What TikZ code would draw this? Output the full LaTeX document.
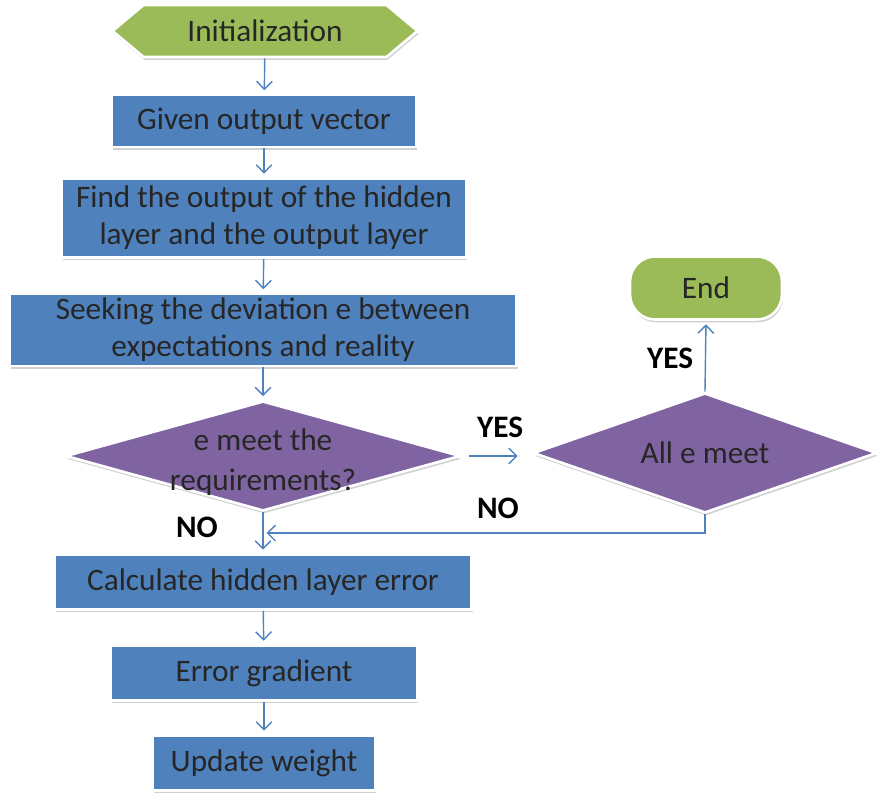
\documentclass[tikz,border=0pt]{standalone}
\usepackage{fontspec}
\setmainfont{Carlito}
\usetikzlibrary{positioning, arrows.meta, shapes.geometric, shapes.symbols, shadows}
\definecolor{boxblue}{HTML}{4F81BD}
\definecolor{boxgreen}{HTML}{9BBB59}
\definecolor{boxpurple}{HTML}{8064A2}
\tikzset{
    every node/.style={font=\fontsize{17.8}{21}\selectfont, text=black!85},
    frame/.style={draw=white, line width=1.5pt, inner sep=0pt,
        drop shadow={shadow xshift=0.6pt, shadow yshift=-1.6pt, opacity=0.3, fill=black!60}},
    stepbox/.style={frame, rectangle, fill=boxblue, align=center},
    decision/.style={frame, diamond, fill=boxpurple},
    flow/.style={-{Straight Barb[length=4.5pt,width=9pt]}, draw=boxblue, line width=0.8pt, shorten >=2pt},
    answer/.style={font=\fontsize{17.8}{21}\selectfont\bfseries, text=black}
}
\begin{document}
\begin{tikzpicture}[x=0.02cm, y=-0.02cm]
    \useasboundingbox (0,0) rectangle (896,808);
    \node[frame, signal, signal to=west and east, signal pointer angle=80, fill=boxgreen, minimum width=6.1cm, minimum height=1.04cm] (init) at (265,31) {Initialization};
    \node[stepbox, minimum width=6.08cm, minimum height=1.04cm] (given) at (264,121) {Given output vector};
    \node[stepbox, minimum width=8.08cm, minimum height=1.58cm] (find) at (264,218) {Find the output of the hidden\\layer and the output layer};
    \node[stepbox, minimum width=10.14cm, minimum height=1.44cm] (seek) at (263,330) {Seeking the deviation e between\\expectations and reality};
    \node[decision, minimum width=7.9cm, minimum height=2.2cm, label={[align=center, font=\fontsize{17.8}{22.5}\selectfont, yshift=-3.5pt]center:e meet the\\requirements?}] (meet) at (263,456) {};
    \node[decision, minimum width=6.88cm, minimum height=2.4cm, label={center:All e meet}] (allmeet) at (705,453) {};
    \node[frame, rectangle, rounded corners=0.5cm, fill=boxgreen, minimum width=3.04cm, minimum height=1.26cm] (end) at (706,288) {End};
    \node[stepbox, minimum width=8.34cm, minimum height=1.1cm] (calc) at (263,582) {Calculate hidden layer error};
    \node[stepbox, minimum width=6.12cm, minimum height=1.1cm] (grad) at (264,673) {Error gradient};
    \node[stepbox, minimum width=4.44cm, minimum height=1.1cm] (update) at (264,763) {Update weight};
    \coordinate (back) at (263,533);

    \draw[flow] (init) -- (given);
    \draw[flow] (given) -- (find);
    \draw[flow] (find) -- (seek);
    \draw[flow] (seek) -- (meet);
    \draw[flow, shorten <=4pt, shorten >=8pt] (meet.east) -- (meet.east -| allmeet.west);
    \draw[flow] (allmeet.north) -- (end.south);
    \draw[flow] (allmeet.south) |- (back);
    \draw[flow] (meet.south) -- (calc);
    \draw[flow] (calc) -- (grad);
    \draw[flow] (grad) -- (update);

    \node[answer] (yes1) at (500,427) {YES};
    \node[answer] (yes2) at (670,358) {YES};
    \node[answer] (no1) at (498,508) {NO};
    \node[answer] (no2) at (197,527) {NO};
\end{tikzpicture}
\end{document}
